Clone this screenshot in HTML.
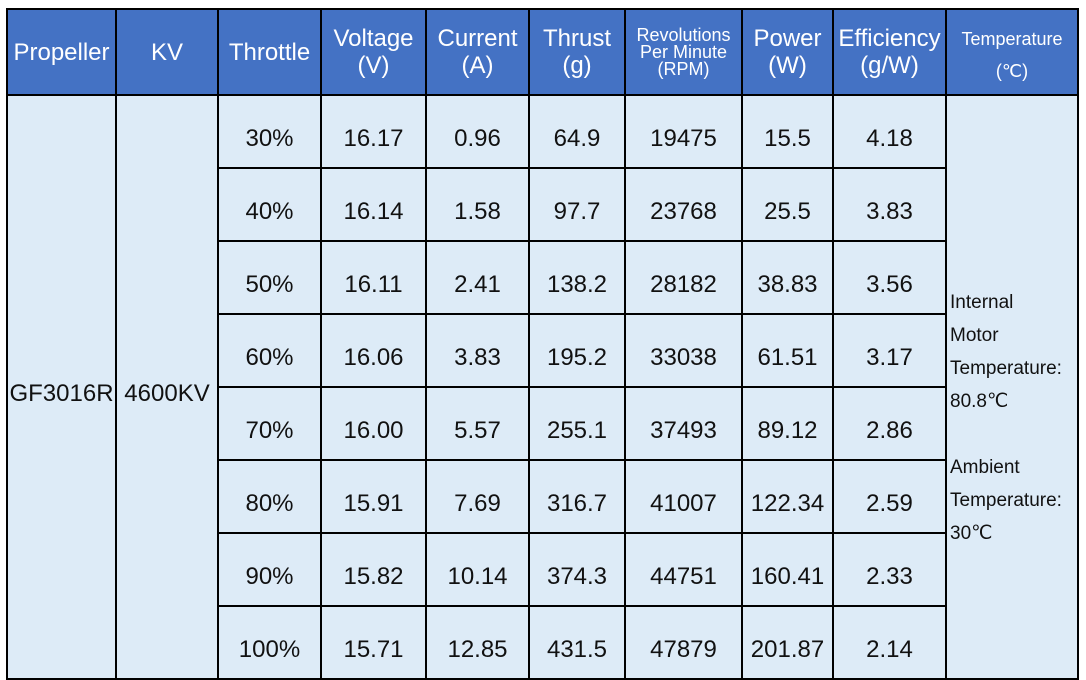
<!DOCTYPE html>
<html><head><meta charset="utf-8"><style>
html,body{margin:0;padding:0;background:#fff;width:1086px;height:678px;overflow:hidden}
table{position:absolute;left:6px;top:8px;border-collapse:collapse;table-layout:fixed;width:1071px;font-family:"Liberation Sans",sans-serif;}
td,th{border:2px solid #000;padding:0;text-align:center;color:#111;font-size:24px;font-weight:normal;overflow:hidden}
th{background:#4472C4;color:#fff;height:78px;line-height:27px;font-size:24px}
th.sm{font-size:18px;line-height:17px}
td{background:#DDEBF7;height:57px;padding-top:14px}
td.temp{text-align:left;font-size:19px;line-height:33px;padding-left:3px;padding-top:62px}
</style></head><body>
<table>
<colgroup><col style="width:109px"><col style="width:102px"><col style="width:103px"><col style="width:105px"><col style="width:103px"><col style="width:96px"><col style="width:117px"><col style="width:91px"><col style="width:113px"><col style="width:132px"></colgroup>
<thead><tr>
<th>Propeller</th>
<th>KV</th>
<th>Throttle</th>
<th>Voltage<br>(V)</th>
<th>Current<br>(A)</th>
<th>Thrust<br>(g)</th>
<th class="sm">Revolutions<br>Per Minute<br>(RPM)</th>
<th>Power<br>(W)</th>
<th>Efficiency<br>(g/W)</th>
<th class="sm" style="line-height:32px;padding-top:6px">Temperature<br>(℃)</th>
</tr></thead>
<tbody id="tb"></tbody>
</table>
<script>
const throttle=["30%","40%","50%","60%","70%","80%","90%","100%"];
const voltage=["16.17","16.14","16.11","16.06","16.00","15.91","15.82","15.71"];
const current=["0.96","1.58","2.41","3.83","5.57","7.69","10.14","12.85"];
const thrust=["64.9","97.7","138.2","195.2","255.1","316.7","374.3","431.5"];
const rpm=["19475","23768","28182","33038","37493","41007","44751","47879"];
const power=["15.5","25.5","38.83","61.51","89.12","122.34","160.41","201.87"];
const eff=["4.18","3.83","3.56","3.17","2.86","2.59","2.33","2.14"];
const tb=document.getElementById('tb');
for(let i=0;i<throttle.length;i++){
  const tr=document.createElement('tr');
  
  
  if(i===0){
    const p=document.createElement('td');p.rowSpan=8;p.textContent='GF3016R';
    
    
    tr.appendChild(p);
    const k=document.createElement('td');k.rowSpan=8;k.textContent='4600KV';
    
    
    tr.appendChild(k);
  }
  const vals=[throttle[i],voltage[i],current[i],thrust[i],rpm[i],power[i],eff[i]];
  const names=['throttle-cell','voltage-cell','current-cell','thrust-cell','rpm-cell','power-cell','efficiency-cell'];
  vals.forEach((v,j)=>{
    const td=document.createElement('td');td.textContent=v;
    
    
    tr.appendChild(td);
  });
  if(i===0){
    const t=document.createElement('td');t.rowSpan=8;t.className='temp';
    t.innerHTML='Internal<br>Motor<br>Temperature:<br>80.8℃<br><br>Ambient<br>Temperature:<br>30℃';
    
    
    tr.appendChild(t);
  }
  tb.appendChild(tr);
}
</script>
</body></html>
